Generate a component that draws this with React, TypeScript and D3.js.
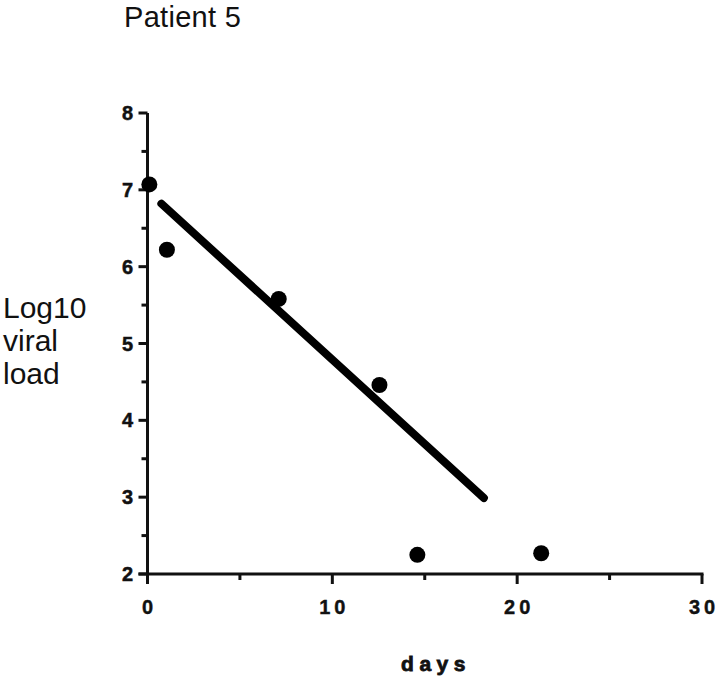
import React from "react";
import * as d3 from "d3";

const days = [0.1, 1.05, 7.1, 12.55, 14.6, 21.3];
const viralLoad = [7.07, 6.22, 5.58, 4.46, 2.25, 2.27];
const fitDays = [0.75, 18.2];
const fitLoad = [6.82, 2.99];
const xMajorTicks = [0, 10, 20, 30];
const xMinorTicks = [5, 15, 25];
const yMajorTicks = [2, 3, 4, 5, 6, 7, 8];
const yMinorTicks = [2.5, 3.5, 4.5, 5.5, 6.5, 7.5];
const title = "Patient 5";
const yLabelLines = ["Log10", "viral", "load"];
const xLabel = "days";

export default function App() {
  const W = 720, H = 678;
  const x = d3.scaleLinear().domain([0, 30]).range([147.5, 702]);
  const y = d3.scaleLinear().domain([2, 8]).range([574, 113]);
  const font = "'Liberation Sans', Arial, Helvetica, sans-serif";
  const fit = d3.line<number>().x((d) => x(d)).y((_, i) => y(fitLoad[i]));

  return (
    <svg width={W} height={H} style={{ position: "absolute", left: 0, top: 0, background: "#fff" }}>
      <rect x={0} y={0} width={W} height={H} fill="#fff" />
      <text x={124} y={27} fontFamily={font} fontSize={29} letterSpacing={0.3} fill="#111">{title}</text>
      {yLabelLines.map((t, i) => (
        <text key={t} x={3} y={318 + i * 33} fontFamily={font} fontSize={30} fill="#111">{t}</text>
      ))}
      {/* y axis */}
      <line x1={x(0)} x2={x(0)} y1={y(8)} y2={y(2) + 10} stroke="#111" strokeWidth={3} />
      {yMajorTicks.map((v) => (
        <g key={"ym" + v}>
          <line x1={x(0) - 9} x2={x(0)} y1={y(v)} y2={y(v)} stroke="#111" strokeWidth={3} />
          <text x={133} y={y(v) + 7} textAnchor="end" fontFamily={font} fontWeight="bold" fontSize={20} stroke="#111" strokeWidth={0.5} fill="#111">{v}</text>
        </g>
      ))}
      {yMinorTicks.map((v) => (
        <line key={"yn" + v} x1={x(0) - 6} x2={x(0)} y1={y(v)} y2={y(v)} stroke="#111" strokeWidth={3} />
      ))}
      {/* x axis */}
      <line x1={x(0) - 9} x2={x(30) + 1.5} y1={y(2)} y2={y(2)} stroke="#111" strokeWidth={3} />
      {xMajorTicks.map((v) => (
        <g key={"xm" + v}>
          <line x1={x(v)} x2={x(v)} y1={y(2)} y2={y(2) + 10} stroke="#111" strokeWidth={3} />
          <text x={x(v) + 2} y={614} textAnchor="middle" fontFamily={font} fontWeight="bold" fontSize={20} letterSpacing={4} stroke="#111" strokeWidth={0.4} fill="#111">{v}</text>
        </g>
      ))}
      {xMinorTicks.map((v) => (
        <line key={"xn" + v} x1={x(v)} x2={x(v)} y1={y(2)} y2={y(2) + 6} stroke="#111" strokeWidth={3} />
      ))}
      <text x={436} y={671} textAnchor="middle" fontFamily={font} fontWeight="bold" fontSize={21} letterSpacing={5.5} stroke="#111" strokeWidth={0.8} fill="#111">{xLabel}</text>
      {/* fit line */}
      <path d={fit(fitDays) || ""} stroke="#000" strokeWidth={8} strokeLinecap="round" fill="none" />
      {/* points */}
      {days.map((d, i) => (
        <circle key={i} cx={x(d)} cy={y(viralLoad[i])} r={8} fill="#000" />
      ))}
    </svg>
  );
}
